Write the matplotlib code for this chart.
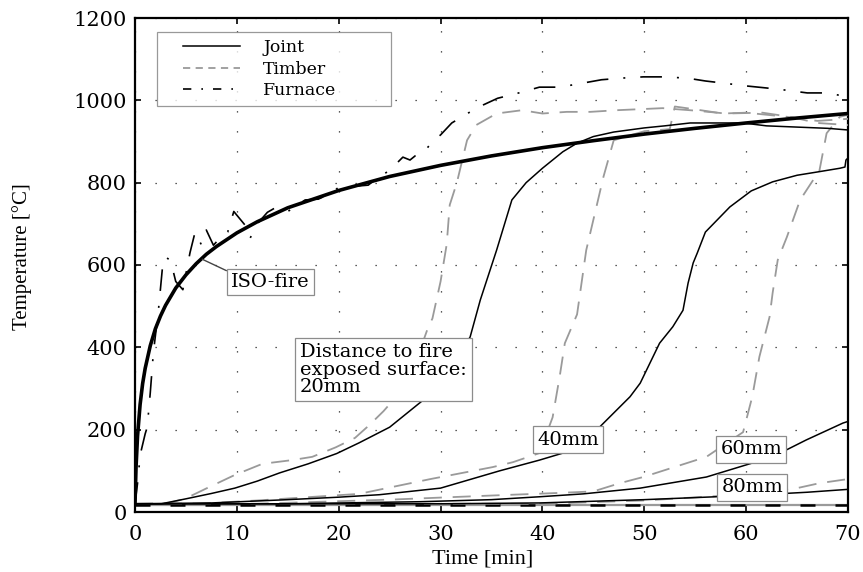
import matplotlib
matplotlib.use("Agg")
import matplotlib.pyplot as plt
from matplotlib.lines import Line2D
from matplotlib.legend_handler import HandlerLine2D

# ---------------- data ----------------
iso_t = [0, 0.1, 0.25, 0.5, 0.75, 1, 1.5, 2, 2.5, 3, 4, 5, 6, 7, 8, 10, 12, 15,
         20, 25, 30, 35, 40, 45, 50, 55, 60, 65, 70]
iso_T = [20, 108, 185, 261, 312, 349, 404, 445, 476, 502, 544, 576, 603, 626, 645,
         678, 705, 739, 781, 815, 842, 865, 885, 902, 918, 932, 945, 957, 968]

furn_t = [0, 0.3, 0.5, 1.0, 1.2, 1.5, 1.8, 2.3, 2.7, 3.0, 3.5, 4.0, 4.7, 5.4, 5.9,
          6.5, 7.0, 7.7, 8.5, 9.1, 9.7, 10.8, 11.3, 12, 13, 13.7, 15, 16, 16.7,
          18, 19.3, 19.9, 21, 22.9, 23.5, 25, 26.3, 27, 27.5, 28.3, 29.2, 30,
          31.1, 32.7, 34.2, 35.6, 38, 39.7, 41.7, 44, 45.8, 47.8, 49.9, 51.8,
          54.2, 56, 57.7, 60, 62, 63.8, 66, 68, 70]
furn_T = [20, 80, 138, 190, 206, 290, 386, 490, 595, 620, 610, 560, 540, 630, 680,
          650, 685, 648, 670, 680, 730, 697, 665, 700, 728, 738, 730, 746, 758,
          760, 775, 787, 790, 794, 806, 830, 862, 855, 865, 872, 900, 916,
          945, 969, 989, 1005, 1020, 1032, 1032, 1042, 1050, 1054, 1057, 1057,
          1054, 1047, 1042, 1035, 1030, 1025, 1018, 1018, 1008]

j20_t = [0, 2.6, 5, 7.5, 9.8, 12, 14.2, 17, 19.8, 22, 25, 28.3, 30, 31.5, 32.9,
         33.9, 35.5, 37, 38.4, 40, 42, 43.4, 45, 47, 50, 52, 54.5, 57, 59.7, 62,
         65, 68, 70]
j20_T = [20, 20, 32, 45, 58, 75, 95, 117, 142, 168, 206, 272, 320, 370, 425,
         515, 636, 758, 800, 835, 875, 896, 912, 923, 933, 938, 945, 945, 945, 938,
         935, 932, 928]

t20_t = [0, 3, 4.9, 6.9, 9.8, 12.5, 15.4, 17.4, 19.7, 21.6, 23, 24.4, 26, 27.5,
         28.8, 29.2, 30, 30.2, 30.6, 30.9, 31.6, 32.6, 33.5, 35.5, 38, 40, 42.4,
         44.7, 47.3, 51.8, 55, 58, 61.6, 64.3, 67, 70]
t20_T = [20, 20, 32, 56, 90, 117, 126, 134, 157, 180, 211, 245, 290, 360,
         450, 470, 560, 590, 650, 746, 800, 903, 940, 968, 976, 968, 972,
         972, 976, 981, 975, 968, 970, 960, 945, 940]

j40_t = [0, 7.5, 15, 20, 24, 30, 35.8, 39.7, 42.4, 45.6, 48.6, 49.6, 51.5, 52.8,
         53.8, 54.3, 54.8, 55.2, 56, 58.4, 60.5, 62.6, 65, 67, 69.2, 69.7, 69.8, 70]
j40_T = [20, 22, 30, 36, 42, 58, 100, 126, 146, 206, 280, 313, 410, 450,
         490, 556, 605, 629, 680, 741, 780, 802, 818, 826, 835, 838, 855, 860]

t40_t = [0, 6, 12, 17, 22, 29, 35.1, 37.1, 39.7, 41, 41.7, 42.2, 43.4, 44.3, 46,
         47, 50, 52.5, 53, 55, 57.7, 60, 64, 67, 70]
t40_T = [20, 20, 28, 36, 44, 80, 109, 121, 143, 230, 330, 410, 480, 636, 815,
         903, 925, 930, 985, 978, 968, 970, 960, 950, 955]

j60_t = [0, 15, 28, 35, 39.7, 44, 49.6, 56.1, 62.6, 65.9, 69.5, 70]
j60_T = [20, 20, 25, 30, 37, 44, 58, 85, 134, 175, 216, 220]

t60_t = [0, 12, 25, 35, 41.3, 45, 47.6, 49.9, 56.1, 59.7, 60.6, 61.3, 62.3, 62.6,
         63.1, 64, 65.3, 67.2, 67.9, 69.2, 70]
t60_T = [20, 20, 30, 40, 46, 50, 70, 85, 134, 194, 280, 377, 474, 532,
         612, 668, 758, 830, 920, 960, 965]

j80_t = [0, 30, 39.7, 50, 60, 66, 70]
j80_T = [20, 20, 22, 30, 40, 48, 55]

t80_t = [0, 40, 50, 58, 62, 65, 67.2, 70]
t80_T = [20, 20, 28, 40, 50, 58, 70, 80]

deep_t = [0, 70]
deep_T = [18, 18]

x_ticks = [0, 10, 20, 30, 40, 50, 60, 70]
y_ticks = [0, 200, 400, 600, 800, 1000, 1200]

# ---------------- styles ----------------
GRAY = "#9a9a9a"
timber_ls = (0, (10, 6))
furn_ls = (0, (13, 9, 1.2, 9))
SERIF_T = ["Liberation Serif", "DejaVu Serif"]
SERIF_C = ["DejaVu Serif"]

fig = plt.figure(figsize=(8.63, 5.72), dpi=100)
ax = fig.add_axes([135 / 863, 1 - 512 / 572, (848 - 135) / 863, (512 - 18) / 572])

# grid
ax.set_axisbelow(True)
ax.grid(True, color="0.15", linestyle=(0, (1, 15)), linewidth=0.9)

# deeper sensors (flat at ambient)
ax.plot(deep_t, deep_T, color=GRAY, lw=1.6, zorder=2)
ax.plot(deep_t, deep_T, color="black", lw=1.8, linestyle=(0, (6, 8)), zorder=2)

# timber (dashed gray)
for tt, TT in [(t20_t, t20_T), (t40_t, t40_T), (t60_t, t60_T), (t80_t, t80_T)]:
    ax.plot(tt, TT, color=GRAY, lw=1.3, linestyle=timber_ls, zorder=3)

# joint (solid black)
for tt, TT in [(j20_t, j20_T), (j40_t, j40_T), (j60_t, j60_T), (j80_t, j80_T)]:
    ax.plot(tt, TT, color="black", lw=1.1, zorder=4)

# furnace
ax.plot(furn_t, furn_T, color="black", lw=1.2, linestyle=furn_ls, zorder=4)

# ISO fire
ax.plot(iso_t, iso_T, color="black", lw=2.6, zorder=5)

ax.set_xlim(0, 70)
ax.set_ylim(0, 1200)
ax.set_xticks(x_ticks)
ax.set_yticks(y_ticks)
ax.tick_params(direction="in", top=True, right=True, length=4.5, width=1.2)
ax.tick_params(axis="x", pad=9)
ax.tick_params(axis="y", pad=6)
for lab in ax.get_xticklabels() + ax.get_yticklabels():
    lab.set_fontfamily(SERIF_C)
    lab.set_fontsize(15)
for sp in ax.spines.values():
    sp.set_linewidth(1.6)

ax.set_xlabel("Time [min]", fontfamily=SERIF_T, fontsize=16)
ax.xaxis.set_label_coords(0.487, -0.075)
ax.set_ylabel("Temperature [°C]", fontfamily=SERIF_T, fontsize=15)
ax.yaxis.set_label_coords(-0.145, 0.516)

# legend
handles = [Line2D([], [], color="black", lw=1.1),
           Line2D([], [], color=GRAY, lw=1.3, linestyle=(0, (4, 3))),
           Line2D([], [], color="black", lw=1.2, linestyle=(0, (5, 6, 1, 6)))]
leg = ax.legend(handles, ["Joint", "Timber", "Furnace"], loc="upper left",
                bbox_to_anchor=(0.031, 0.971, 0.328, 0.0), mode="expand",
                prop={"family": SERIF_C, "size": 12.5}, frameon=True, fancybox=False,
                edgecolor="#808080", borderpad=0.4, labelspacing=0.25,
                handlelength=4.4, handletextpad=1.3, borderaxespad=0,
                handler_map={Line2D: HandlerLine2D(xpad=1.1)})
leg.get_frame().set_linewidth(0.9)
leg.set_zorder(10)

# annotations
box = dict(boxstyle="square,pad=0.22", fc="white", ec="#8c8c8c", lw=0.9)
ax.annotate("ISO-fire", xy=(6.6, 614), xytext=(13.3, 559), ha="center", va="center",
            fontfamily=SERIF_C, fontsize=14, bbox=box, zorder=9,
            arrowprops=dict(arrowstyle="-", color="#444444", lw=1.0,
                            relpos=(0, 1), shrinkA=0, shrinkB=0))
ax.text(16.2, 346, "Distance to fire\nexposed surface:\n20mm", ha="left", va="center",
        fontfamily=SERIF_C, fontsize=14, linespacing=0.95,
        bbox=dict(boxstyle="square,pad=0.25", fc="white", ec="#8c8c8c", lw=0.9),
        zorder=9)
ax.text(42.5, 176, "40mm", ha="center", va="center", fontfamily=SERIF_C,
        fontsize=14, bbox=box, zorder=9)
ax.text(60.5, 152, "60mm", ha="center", va="center", fontfamily=SERIF_C,
        fontsize=14, bbox=box, zorder=9)
ax.text(60.6, 60, "80mm", ha="center", va="center", fontfamily=SERIF_C,
        fontsize=14, bbox=box, zorder=9)

fig.savefig("out.png", dpi=100)
